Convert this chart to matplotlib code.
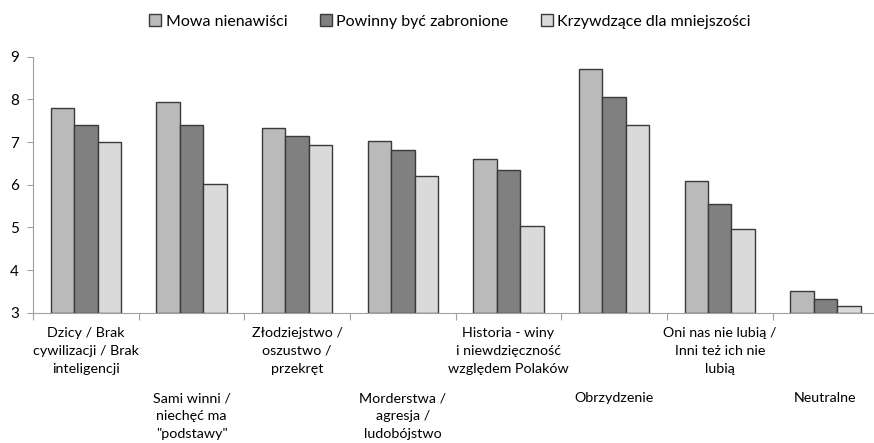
import matplotlib.pyplot as plt
import numpy as np

categories = ['Dzicy / Brak\ncywilizacji / Brak\ninteligencji',
              'Sami winni /\nniechęć ma\n"podstawy"',
              'Złodziejstwo /\noszustwo /\nprzekręt',
              'Morderstwa /\nagresja /\nludobójstwo',
              'Historia - winy\ni niewdzięczność\nwzględem Polaków',
              'Obrzydzenie',
              'Oni nas nie lubią /\nInni też ich nie\nlubią',
              'Neutralne']
series_names = ['Mowa nienawiści', 'Powinny być zabronione', 'Krzywdzące dla mniejszości']
mowa = [7.79, 7.94, 7.32, 7.03, 6.60, 8.71, 6.09, 3.52]
zabronione = [7.40, 7.40, 7.15, 6.82, 6.34, 8.06, 5.54, 3.33]
krzywdzace = [7.00, 6.01, 6.94, 6.20, 5.04, 7.41, 4.97, 3.17]
y_ticks = [3, 4, 5, 6, 7, 8, 9]

plt.rcParams['font.family'] = ['Lato', 'DejaVu Sans']

fig = plt.figure(figsize=(8.74, 4.43), dpi=100)
ax = fig.add_axes([0.0378, 0.294, 0.967, 0.578])

colors = ['#bababa', '#808080', '#dadada']
w = 0.222
x = np.arange(len(categories))
for i, vals in enumerate([mowa, zabronione, krzywdzace]):
    ax.bar(x + (i - 1) * w, [v - 3 for v in vals], w, bottom=3,
           color=colors[i], edgecolor='#3a3a3a', linewidth=1.0,
           label=series_names[i])

ax.set_xlim(-0.5, 7.5)
ax.set_ylim(3, 9)
ax.set_yticks(y_ticks)
ax.tick_params(axis='y', labelsize=11, length=4, color='#a0a0a0', pad=6)
ax.set_xticks(np.arange(-0.5, 8, 1))
ax.set_xticklabels([])
ax.tick_params(axis='x', length=5, color='#a0a0a0')
for s in ['top', 'right']:
    ax.spines[s].set_visible(False)
for s in ['left', 'bottom']:
    ax.spines[s].set_color('#a0a0a0')

# category labels alternate between two rows
trans = ax.get_xaxis_transform()
for i, lab in enumerate(categories):
    yy = -0.055 if i % 2 == 0 else -0.31
    ax.text(i, yy, lab, transform=trans, ha='center', va='top',
            fontsize=10.3, linespacing=1.6)

ax.legend(loc='upper center', bbox_to_anchor=(0.515, 1.0), bbox_transform=fig.transFigure,
          ncol=3, frameon=False, fontsize=11.5, handlelength=0.75, handleheight=0.75,
          handletextpad=0.3, columnspacing=2.0)

fig.savefig('out.png', dpi=100)
